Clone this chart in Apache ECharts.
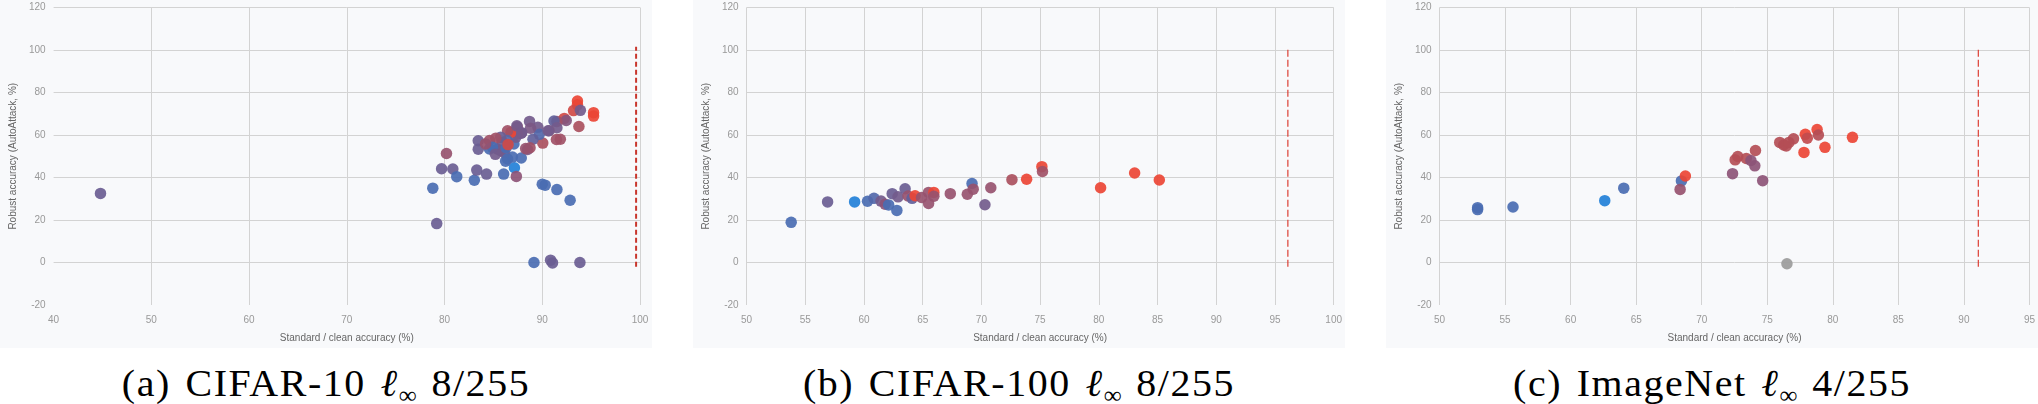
<!DOCTYPE html>
<html>
<head>
<meta charset="utf-8">
<script src="https://cdn.jsdelivr.net/npm/echarts@6/dist/echarts.min.js"></script>
<style>
  html, body { margin: 0; padding: 0; background: #fff; }
  body { width: 2038px; height: 404px; position: relative; overflow: hidden; }
  .panel { position: absolute; top: 0; width: 652px; height: 348px; background: #f8f9fb; }
  .caption {
    position: absolute; top: 364px; width: 652px; text-align: center; white-space: nowrap;
    font-family: "Liberation Serif", "DejaVu Serif", serif; font-size: 38px; line-height: 38px;
    letter-spacing: 1.5px; word-spacing: 3px; color: #000;
    transform: scaleX(1.05); transform-origin: center;
  }
  .caption sub { font-size: 24px; vertical-align: -7px; line-height: 0; letter-spacing: 0; }
</style>
</head>
<body>
<div id="panel-a" class="panel" style="left:0px"></div>
<div id="panel-b" class="panel" style="left:693px"></div>
<div id="panel-c" class="panel" style="left:1386px"></div>
<div class="caption" style="left:0px">(a) CIFAR-10 <i>ℓ</i><sub>∞</sub> 8/255</div>
<div class="caption" style="left:693px">(b) CIFAR-100 <i>ℓ</i><sub>∞</sub> 8/255</div>
<div class="caption" style="left:1386px">(c) ImageNet <i>ℓ</i><sub>∞</sub> 4/255</div>
<script>
// [clean accuracy, robust accuracy, colour value 0 (blue) .. 1 (red)]
const cifar10Points = [
  [44.8, 32.5, 0.4],
  [78.8, 35.0, 0.2], [79.2, 18.3, 0.4], [79.7, 44.1, 0.4], [80.2, 51.3, 0.65],
  [80.85, 44.0, 0.4], [81.25, 40.4, 0.2], [83.05, 38.7, 0.2], [83.3, 43.5, 0.4],
  [83.45, 57.3, 0.4], [83.45, 53.3, 0.4], [84.3, 41.6, 0.4], [86.05, 41.6, 0.2],
  [87.15, 44.6, 0], [87.35, 40.5, 0.6], [86.25, 47.7, 0.2], [86.95, 49.6, 0.2],
  [87.85, 49.2, 0.2], [90.0, 36.8, 0.2], [90.3, 36.4, 0.2], [91.5, 34.3, 0.2],
  [92.85, 29.3, 0.2], [89.15, 0.0, 0.2], [90.85, 1.1, 0.4], [91.05, -0.2, 0.4],
  [93.85, 0.0, 0.4],
  [93.6, 76.0, 1], [93.6, 74.2, 1], [93.2, 71.5, 0.9], [93.9, 71.6, 0.45],
  [95.25, 70.5, 1], [95.25, 68.9, 1], [93.75, 64.0, 0.75], [92.25, 67.8, 0.9],
  [92.45, 66.8, 0.55], [91.5, 66.4, 0.7], [91.2, 66.6, 0.35], [91.5, 63.4, 0.45],
  [90.7, 62.0, 0.5], [91.45, 57.9, 0.7], [91.85, 58.0, 0.7], [90.05, 56.2, 0.75],
  [89.55, 63.6, 0.45], [89.7, 60.3, 0.25], [89.05, 58.0, 0.35], [88.7, 66.4, 0.45],
  [88.8, 63.2, 0.5], [88.5, 53.2, 0.5], [88.75, 54.0, 0.7], [88.3, 53.6, 0.65],
  [87.85, 60.8, 0.45], [87.45, 63.8, 0.6], [87.45, 60.5, 0.7], [87.1, 55.8, 0.2],
  [87.3, 59.0, 0.45], [86.8, 61.3, 1], [86.45, 62.0, 0.7], [86.4, 57.4, 0.25],
  [85.9, 56.6, 0.45], [85.75, 59.0, 0.4], [85.25, 58.5, 0.7], [85.4, 53.4, 0.45],
  [85.75, 52.6, 0.45], [86.1, 51.8, 0.45], [84.6, 57.4, 0.7], [84.6, 53.4, 0.2],
  [84.9, 54.2, 0.2], [84.2, 55.8, 0.65], [86.45, 48.7, 0.2], [85.2, 50.9, 0.45],
  [86.3, 54.0, 0.2], [86.5, 55.5, 0.9], [87.4, 64.3, 0.45], [87.9, 61.1, 0.45],
  [90.6, 62.0, 0.45]
];

const cifar100Points = [
  [53.8, 18.9, 0.2], [56.9, 28.5, 0.4], [59.2, 28.5, 0], [60.3, 28.8, 0.2],
  [60.85, 30.2, 0.25], [61.45, 28.9, 0.45], [61.8, 27.4, 0.6], [62.1, 27.1, 0.2],
  [62.4, 32.4, 0.4], [62.8, 24.5, 0.2], [62.9, 30.9, 0.45], [63.5, 34.7, 0.4],
  [63.75, 31.3, 0.65], [64.1, 30.2, 0.35], [64.35, 31.4, 1], [64.9, 30.6, 0.65],
  [65.5, 33.0, 0.65], [65.95, 33.0, 1], [65.5, 27.8, 0.65], [65.95, 31.2, 0.65],
  [67.35, 32.4, 0.65], [68.8, 32.1, 0.65], [69.2, 37.2, 0.2], [69.3, 34.5, 0.65],
  [70.3, 27.2, 0.45], [70.8, 35.2, 0.65], [72.6, 39.0, 0.75], [73.85, 39.2, 1],
  [75.15, 45.1, 1], [75.2, 42.8, 0.7], [80.15, 35.2, 1], [83.05, 42.1, 1],
  [85.15, 38.8, 1]
];

const imagenetPoints = [
  [52.9, 25.8, 0.2], [52.9, 24.9, 0.2], [55.6, 26.1, 0.2], [62.6, 29.1, 0],
  [64.05, 35.0, 0.2], [68.45, 38.4, 0.2], [68.75, 40.7, 1], [68.35, 34.4, 0.65],
  [72.35, 41.8, 0.6], [72.55, 48.3, 0.8], [72.75, 49.9, 0.8], [73.4, 49.0, 0.8],
  [73.75, 48.0, 0.6], [74.05, 45.5, 0.6], [74.1, 52.7, 0.8], [74.65, 38.5, 0.6],
  [75.95, 56.5, 0.8], [76.25, 55.3, 0.8], [76.45, 54.8, 0.8], [76.65, 56.5, 0.8],
  [77.0, 58.2, 0.8], [77.8, 51.8, 1], [77.9, 60.3, 1], [78.05, 58.5, 0.85],
  [78.8, 62.6, 1], [78.9, 60.0, 0.8], [79.4, 54.2, 1], [81.5, 58.9, 1]
];
// entry without a colour value, drawn grey
const imagenetGreyPoints = [[76.5, -0.6]];

// dashed reference line position per panel, and its y span
const refLineX = [99.6, 96.1, 91.1];
const refLineSpan = [-2, 101.5];

const xRanges = [[40, 100, 10], [50, 100, 5], [50, 95, 5]];
const yRange = [-20, 120, 20];
const pointColors = ['#2280d8', '#4a6cb2', '#6a5d93', '#8d5477', '#b44e56', '#ec4535'];

function makePanel(domId, points, greyPoints, xRange, lineX, grid, lineStyle, showXMin) {
  let chart = echarts.init(document.getElementById(domId), null, { renderer: 'canvas' });
  let option = {
    animation: false,
    grid: grid,
    visualMap: {
      show: false,
      type: 'continuous',
      seriesIndex: 0,
      dimension: 2,
      min: 0,
      max: 1,
      inRange: { color: pointColors }
    },
    xAxis: {
      type: 'value',
      min: xRange[0], max: xRange[1], interval: xRange[2],
      name: 'Standard / clean accuracy (%)',
      nameLocation: 'middle',
      nameGap: 28,
      nameTextStyle: { color: '#666', fontSize: 10, fontFamily: 'Liberation Sans' },
      axisLine: { show: false },
      axisTick: { show: false },
      axisLabel: { color: '#999', fontSize: 10, margin: 10, fontFamily: 'Liberation Sans' },
      splitLine: { show: true, showMinLine: showXMin, lineStyle: { color: '#d3d3d3', width: 1 } }
    },
    yAxis: {
      type: 'value',
      min: yRange[0], max: yRange[1], interval: yRange[2],
      name: 'Robust accuracy (AutoAttack, %)',
      nameLocation: 'middle',
      nameGap: 32,
      nameTextStyle: { color: '#666', fontSize: 10, fontFamily: 'Liberation Sans' },
      axisLine: { show: false },
      axisTick: { show: false },
      axisLabel: { color: '#999', fontSize: 10, margin: 8, fontFamily: 'Liberation Sans' },
      splitLine: { show: true, showMinLine: false, lineStyle: { color: '#d3d3d3', width: 1 } }
    },
    series: [
      {
        type: 'scatter',
        symbolSize: 11.5,
        itemStyle: { opacity: 0.92 },
        data: points,
        z: 3
      },
      {
        type: 'line',
        symbol: 'none',
        silent: true,
        lineStyle: lineStyle,
        data: [[lineX, refLineSpan[0]], [lineX, refLineSpan[1]]],
        z: 2
      },
      {
        type: 'scatter',
        symbolSize: 11.5,
        itemStyle: { color: '#9e9e9e', opacity: 0.95 },
        data: greyPoints,
        z: 3
      }
    ]
  };
  chart.setOption(option);
  return chart;
}

makePanel('panel-a', cifar10Points, [], xRanges[0], refLineX[0],
  { left: 46, right: 12, top: 7.5, bottom: 43 },
  { color: '#c8362c', width: 2, type: [5, 3] }, false);
makePanel('panel-b', cifar100Points, [], xRanges[1], refLineX[1],
  { left: 47, right: 9.5, top: 7.5, bottom: 43 },
  { color: '#dc3e33', width: 1.2, type: [7, 3] }, true);
makePanel('panel-c', imagenetPoints, imagenetGreyPoints, xRanges[2], refLineX[2],
  { left: 47, right: 8.5, top: 7.5, bottom: 43 },
  { color: '#dc3e33', width: 1.2, type: [7, 3] }, true);
</script>
</body>
</html>
